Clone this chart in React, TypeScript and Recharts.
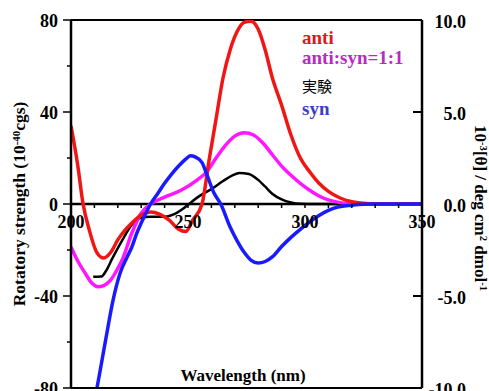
import React from 'react';
import { LineChart, Line, XAxis, YAxis, ReferenceLine } from 'recharts';

const W = 489;
const H = 391;
const MARGIN = { top: 20, right: 0, bottom: 0, left: 0 };
const LEFT_W = 71;
const RIGHT_W = 67;
const XAXIS_H = 3;
const PLOT_H = H - MARGIN.top - MARGIN.bottom - XAXIS_H;
const FONT = '"Liberation Serif", "Times New Roman", serif';

// ---------- data ----------
// calculated rotatory strength (10^-40 cgs), left axis
const antiNm = [200, 203, 205, 208, 211, 214, 217, 220, 223, 226, 230, 234, 238, 242, 246, 249, 252, 256, 259, 262, 265, 268, 271, 274, 277, 280, 283, 286, 290, 294, 298, 302, 306, 310, 315, 320, 325, 330, 340, 350];
const antiVal = [34, 16, 1, -12, -21, -23.5, -21, -15.6, -11.5, -8.3, -4.8, -3.5, -4.5, -7, -11, -12, -7, 0, 19, 37, 55, 67, 75, 79, 79.5, 76, 67, 55, 43, 30, 20, 14, 9, 5.5, 2.6, 1, 0.3, 0, 0, 0];

const mixNm = [200, 203, 206, 209, 211.5, 214, 217, 220, 222, 226, 230, 234, 240, 247, 254, 258, 262, 266, 270, 274, 278, 282, 286, 290, 294, 298, 302, 306, 310, 315, 320, 330, 350];
const mixVal = [-18.7, -25, -30, -34.5, -36, -35.5, -33, -28, -24, -12.6, -4, 0, 3, 6, 10.5, 14, 20, 25.5, 29.5, 31, 30, 26.5, 21.5, 16.5, 12.5, 9, 6, 3.5, 1.8, 0.6, 0.2, 0, 0];

const synNm = [210, 212, 215, 218, 221, 224, 226, 228, 230, 232, 234, 237, 240, 243, 246, 249, 251, 253, 256, 258, 261, 264, 268, 271, 274, 277, 280, 283, 286, 290, 294, 298, 302, 306, 310, 314, 320, 325, 330, 350];
const synVal = [-86, -75, -58, -41.7, -30, -23, -18.7, -13, -8.3, -4, 0, 4.5, 9, 13, 16.5, 19.5, 21, 20.5, 18, 13, 5, 0, -10, -16, -21, -24.5, -25.7, -25, -23, -18.5, -14.5, -11, -7.8, -5, -2.8, -1.3, -0.5, -0.1, 0, 0];

// experimental CD, 10^-3 [θ] (deg cm^2 dmol^-1), right axis
const expNm = [209.5, 213, 215, 217.5, 222, 226, 230, 234, 240, 245, 248, 251, 255, 260, 265, 269, 272, 276, 280, 283, 286, 290, 294, 298, 305, 350];
const expVal = [-3.96, -3.94, -3.63, -3.0, -1.95, -1.13, -0.75, -0.69, -0.69, -0.5, -0.25, 0.06, 0.44, 0.81, 1.25, 1.56, 1.69, 1.63, 1.31, 0.94, 0.56, 0.25, 0.08, 0.01, 0, 0];

const xTicks = [200, 210, 220, 230, 240, 250, 260, 270, 280, 290, 300, 310, 320, 330, 340, 350];
const xLabels = [200, 250, 300, 350];
const leftTicks = [-80, -60, -40, -20, 0, 20, 40, 60, 80];
const leftLabels = [-80, -40, 0, 40, 80];
const rightTicks = [-10, -5, 0, 5, 10];
const rightInner = [-5, 5];

const zip = (xs: number[], ys: number[]) => xs.map((x, i) => ({ nm: x, v: ys[i] }));
const antiData = zip(antiNm, antiVal);
const mixData = zip(mixNm, mixVal);
const expData = zip(expNm, expVal);
const synData = zip(synNm, synVal);

const tickFont = { fontFamily: FONT, fontWeight: 700, fontSize: 18, fill: '#000' } as const;

const XTick = (props: any) => {
  const { x, y, payload } = props;
  const zeroY = y - PLOT_H / 2;
  const show = xLabels.includes(payload.value);
  return (
    <g>
      {payload.value !== 200 && (
        <line x1={x} x2={x} y1={zeroY} y2={zeroY + 4} stroke="#000" strokeWidth={1.5} />
      )}
      {show && (
        <text x={x} y={zeroY + 18} textAnchor="middle" dominantBaseline="central" {...tickFont}>
          {payload.value}
        </text>
      )}
    </g>
  );
};

const LeftTick = (props: any) => {
  const { x, y, payload } = props;
  const major = leftLabels.includes(payload.value);
  return (
    <g>
      <line x1={x - (major ? 8 : 4)} x2={x} y1={y} y2={y} stroke="#000" strokeWidth={1.5} />
      {major && (
        <text x={x - 13} y={y + 1} textAnchor="end" dominantBaseline="central" {...tickFont}>
          {payload.value}
        </text>
      )}
    </g>
  );
};

const RightTick = (props: any) => {
  const { x, y, payload } = props;
  const v = Number(payload.value);
  const inner = rightInner.includes(v);
  return (
    <g>
      {inner && <line x1={x - 9} x2={x} y1={y} y2={y} stroke="#000" strokeWidth={2} />}
      <text x={x + 44} y={y + 2} textAnchor="end" dominantBaseline="central" {...tickFont}>
        {v.toFixed(1)}
      </text>
    </g>
  );
};

const sup = { position: 'relative', top: '-0.45em', fontSize: '0.62em' } as const;

export default function App() {
  return (
    <div style={{ position: 'absolute', left: 0, top: 0, width: W, height: H, background: '#fff' }}>
      <LineChart width={W} height={H} margin={MARGIN}>
        <XAxis
          dataKey="nm"
          type="number"
          domain={[200, 350]}
          ticks={xTicks}
          interval={0}
          height={XAXIS_H}
          tickSize={0}
          tickMargin={0}
          tickLine={false}
          axisLine={{ stroke: '#000', strokeWidth: 2 }}
          tick={<XTick />}
          allowDataOverflow
        />
        <YAxis
          yAxisId="l"
          type="number"
          domain={[-80, 80]}
          ticks={leftTicks}
          interval={0}
          width={LEFT_W}
          tickSize={0}
          tickMargin={0}
          tickLine={false}
          axisLine={{ stroke: '#000', strokeWidth: 2.5 }}
          tick={<LeftTick />}
          allowDataOverflow
        />
        <YAxis
          yAxisId="r"
          orientation="right"
          type="number"
          domain={[-10, 10]}
          ticks={rightTicks}
          interval={0}
          width={RIGHT_W}
          tickSize={0}
          tickMargin={0}
          tickLine={false}
          axisLine={{ stroke: '#000', strokeWidth: 2.5 }}
          tick={<RightTick />}
          allowDataOverflow
        />
        <ReferenceLine yAxisId="l" y={80} stroke="#000" strokeWidth={2} />
        <ReferenceLine yAxisId="l" y={0} stroke="#000" strokeWidth={2.5} />
        <Line yAxisId="r" data={expData} dataKey="v" type="monotone" dot={false} stroke="#000" strokeWidth={2.5} isAnimationActive={false} />
        <Line yAxisId="l" data={mixData} dataKey="v" type="monotone" dot={false} stroke="#ff18ff" strokeWidth={3.5} isAnimationActive={false} />
        <Line yAxisId="l" data={antiData} dataKey="v" type="monotone" dot={false} stroke="#f01616" strokeWidth={3.5} isAnimationActive={false} />
        <Line yAxisId="l" data={synData} dataKey="v" type="monotone" dot={false} stroke="#1a1aff" strokeWidth={3.5} isAnimationActive={false} />
      </LineChart>

      {/* legend texts */}
      <div style={{ position: 'absolute', left: 302, top: 28, font: `700 19px ${FONT}`, lineHeight: 1, color: '#e01818', whiteSpace: 'nowrap' }}>anti</div>
      <div style={{ position: 'absolute', left: 302, top: 48, font: `700 19px ${FONT}`, lineHeight: 1, color: '#b52bc6', whiteSpace: 'nowrap' }}>anti:syn=1:1</div>
      <div style={{ position: 'absolute', left: 302, top: 78, font: `400 15px "Noto Sans CJK JP", sans-serif`, lineHeight: 1, color: '#000', whiteSpace: 'nowrap' }}>実験</div>
      <div style={{ position: 'absolute', left: 302, top: 99, font: `700 19px ${FONT}`, lineHeight: 1, color: '#3c3cc8', whiteSpace: 'nowrap' }}>syn</div>

      {/* axis titles */}
      <div style={{ position: 'absolute', left: 20, top: 204, transform: 'translate(-50%, -50%) rotate(-90deg)', font: `700 17.5px ${FONT}`, lineHeight: 1, whiteSpace: 'nowrap', color: '#000' }}>
        Rotatory strength (10<span style={sup}>-40</span>cgs)
      </div>
      <div style={{ position: 'absolute', left: 480, top: 208, transform: 'translate(-50%, -50%) rotate(90deg)', font: `700 17px ${FONT}`, lineHeight: 1, whiteSpace: 'nowrap', color: '#000' }}>
        10<span style={sup}>-3</span>[θ] / deg cm<span style={sup}>2</span> dmol<span style={sup}>-1</span>
      </div>
      <div style={{ position: 'absolute', left: 243, top: 375, transform: 'translate(-50%, -50%)', font: `700 17px ${FONT}`, lineHeight: 1, whiteSpace: 'nowrap', color: '#000' }}>
        Wavelength (nm)
      </div>
    </div>
  );
}
